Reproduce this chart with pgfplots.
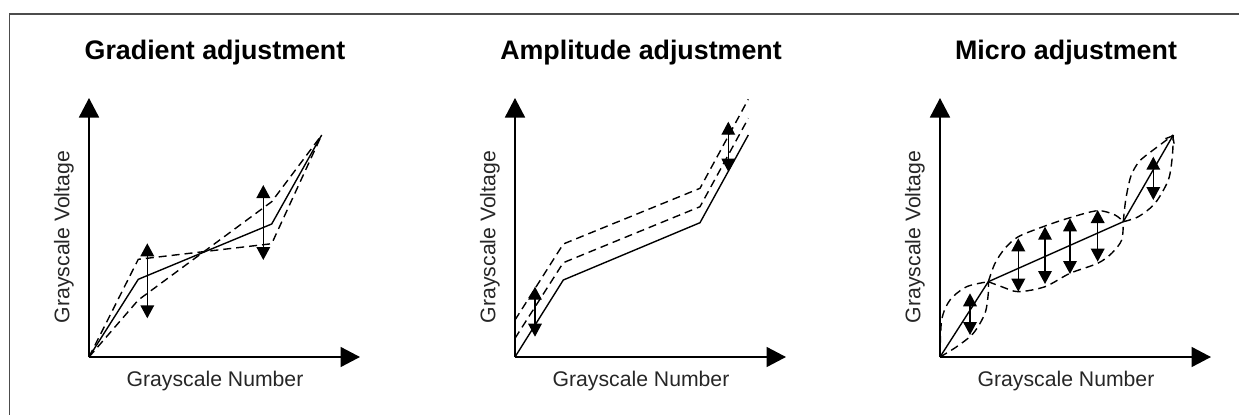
\documentclass[border=0pt]{standalone}
\usepackage{fontspec}
\setmainfont{Liberation Sans}
\usepackage{pgfplots}
\pgfplotsset{compat=1.18}
\usetikzlibrary{arrows.meta}

\pgfplotsset{
  panel/.style={
    scale only axis, width=135.5pt, height=129.5pt,
    xmin=0, xmax=271, ymin=0, ymax=259, enlargelimits=false,
    axis lines=left,
    axis line style={line width=0.85pt, black, arrows={-Triangle[length=9.75pt,width=10pt]}},
    xtick=\empty, ytick=\empty, clip=false, anchor=south west,
    title style={at={(axis description cs:0.465,1.1004)}, anchor=base, inner sep=0pt,
      font=\fontsize{13.4pt}{16pt}\selectfont\bfseries},
    xlabel style={at={(axis description cs:0.465,-0.1158)}, anchor=base, inner sep=0pt,
      font=\fontsize{10.6pt}{12.7pt}\selectfont, text=black!85},
    ylabel style={at={(axis description cs:-0.072,0.463)}, anchor=base, inner sep=0pt,
      font=\fontsize{10.6pt}{12.7pt}\selectfont, text=black!85},
    xlabel={Grayscale Number}, ylabel={Grayscale Voltage},
  },
  crv/.style={line width=0.7pt, black},
  dsh/.style={line width=0.7pt, black, dash pattern=on 4pt off 2.5pt},
  dbl/.style={line width=0.75pt, black, arrows={Triangle[length=6.5pt,width=6.8pt]-Triangle[length=6.5pt,width=6.8pt]}},
}

\begin{document}
\begin{tikzpicture}
\path[use as bounding box] (0,0) rectangle (619.5pt,207pt);
\draw[line width=0.75pt, black!70] (4.75pt,-2pt) -- (4.75pt,200pt) -- (622pt,200pt);

% Panel 1: Gradient adjustment
\begin{axis}[panel, at={(44.5pt,28.5pt)}, title={Gradient adjustment}]
\addplot[crv] coordinates {(0,0) (49.3,77.7) (182.7,133) (232.7,222)};
\addplot[dsh] coordinates {(0,0) (49.3,97.7) (182.7,113.3) (232.7,222)};
\addplot[dsh] coordinates {(0,0) (49.3,57) (182.7,155.3) (232.7,222)};
\addplot[dbl] coordinates {(58.3,38.7) (58.3,113.7)};
\addplot[dbl] coordinates {(174.3,97) (174.3,172)};
\end{axis}

% Panel 2: Amplitude adjustment
\begin{axis}[panel, at={(257.5pt,28.5pt)}, title={Amplitude adjustment}]
\addplot[crv] coordinates {(0,0) (48.3,77) (185,134.3) (233.3,222)};
\addplot[dsh] coordinates {(0,18.7) (48.3,94.3) (185,150.3) (233.3,238.7)};
\addplot[dsh] coordinates {(0,37) (48.3,113) (185,168.7) (233.3,257.7)};
\addplot[dbl, line width=0.6pt] coordinates {(20,20.3) (20,70.3)};
\addplot[dbl, line width=0.6pt] coordinates {(213.3,185.3) (213.3,235.3)};
\end{axis}

% Panel 3: Micro adjustment
\begin{axis}[panel, at={(470pt,28.5pt)}, title={Micro adjustment}]
\addplot[crv, arrows={-Straight Barb[length=3pt,width=5pt]}] coordinates {(0,0) (48.3,75.3) (183.3,135.3) (233.3,222)};
% lens 1
\addplot[dsh, smooth] coordinates {(0,0) (1.7,37) (10,57) (26.7,70.3) (48.3,75.3)};
\addplot[dsh, smooth] coordinates {(0,0) (16.7,10.3) (33.3,23.7) (45,43.7) (48.3,63.7) (48.3,75.3)};
% lens 2
\addplot[dsh, smooth] coordinates {(48.3,75.3) (55,93.7) (65,108.7) (78.3,120.3) (105,131) (130,139.3) (157.7,146.3) (175,142) (183.3,135.3)};
\addplot[dsh, smooth] coordinates {(48.3,75.3) (61.7,70.3) (78.3,65.3) (105,70.3) (130,83.7) (157.7,93.7) (171.7,103.7) (181.7,117) (183.3,135.3)};
% lens 3
\addplot[dsh, smooth] coordinates {(183.3,135.3) (185.7,157) (190.7,180.3) (199,195.3) (212.3,206.3) (233.3,222)};
\addplot[dsh, smooth] coordinates {(183.3,135.3) (198.3,140.3) (215,153.7) (228.3,177) (232.3,200.3) (233.3,222)};
% arrows
\addplot[dbl] coordinates {(30,22) (30,63.7)};
\addplot[dbl] coordinates {(78.3,65.3) (78.3,118.7)};
\addplot[dbl] coordinates {(105,73) (105,130.3)};
\addplot[dbl] coordinates {(130,83) (130,138.7)};
\addplot[dbl] coordinates {(157.7,95.3) (157.7,147)};
\addplot[dbl] coordinates {(213.3,157) (213.3,200.3)};
\end{axis}
\end{tikzpicture}
\end{document}
